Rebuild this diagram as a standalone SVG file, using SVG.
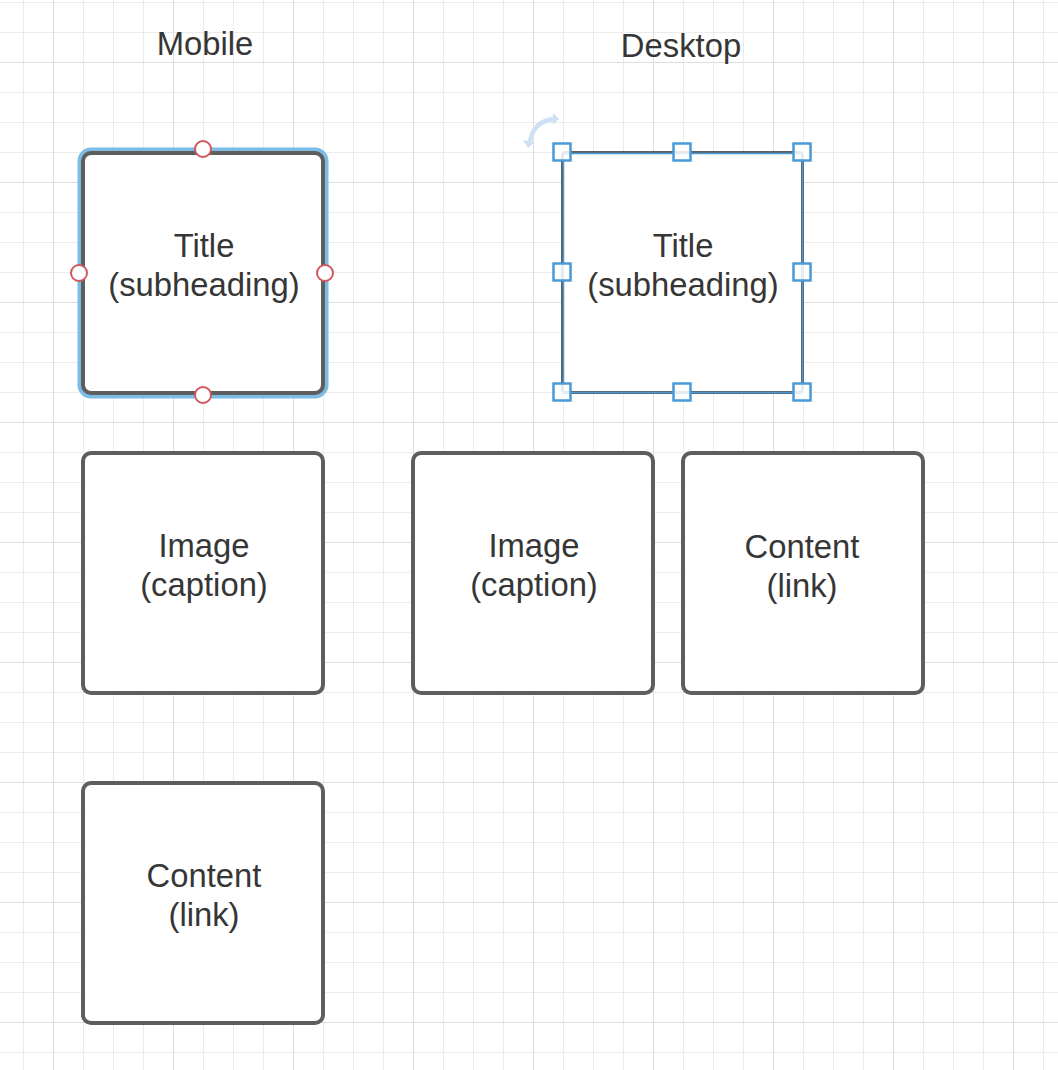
<svg xmlns="http://www.w3.org/2000/svg" width="1058" height="1070" viewBox="0 0 1058 1070">
  <defs>
    <!-- canvas grid: 30px minor cells, 120px major cells -->
    <pattern id="grid" patternUnits="userSpaceOnUse" x="23" y="2" width="120" height="120">
      <g stroke="#ececec" stroke-width="1">
        <line x1="0.5" y1="0" x2="0.5" y2="120"/>
        <line x1="60.5" y1="0" x2="60.5" y2="120"/>
        <line x1="90.5" y1="0" x2="90.5" y2="120"/>
        <line x1="0" y1="0.5" x2="120" y2="0.5"/>
        <line x1="0" y1="30.5" x2="120" y2="30.5"/>
        <line x1="0" y1="90.5" x2="120" y2="90.5"/>
      </g>
      <g stroke="#dedede" stroke-width="1">
        <line x1="30.5" y1="0" x2="30.5" y2="120"/>
        <line x1="0" y1="60.5" x2="120" y2="60.5"/>
      </g>
    </pattern>
    <style>
      .box { fill: #ffffff; stroke: #5e5e5e; stroke-width: 4; }
      .label { font-family: "Liberation Sans", Arial, sans-serif; font-size: 32.8px; fill: #363636; text-anchor: middle; }
      .anchor { fill: #ffffff; stroke: #d0585e; stroke-width: 2; }
      .handle { fill: #ffffff; fill-opacity: 0.85; stroke: #4a9ad8; stroke-width: 2.5; }
    </style>
  </defs>

  <rect x="0" y="0" width="1058" height="1070" fill="#ffffff"/>
  <rect x="0" y="0" width="1058" height="1070" fill="url(#grid)"/>

  <!-- column headings -->
  <text class="label" x="205" y="55">Mobile</text>
  <text class="label" x="681" y="57">Desktop</text>

  <!-- connectors (none in this layout) -->
  <g id="connectors"></g>

  <!-- Mobile column -->
  <g id="mobile-title">
    <rect x="80" y="150" width="246" height="246" rx="11" fill="none" stroke="#7cbde6" stroke-width="5"/>
    <rect class="box" x="83" y="153" width="240" height="240" rx="8"/>
    <text class="label" x="204" y="257">Title</text>
    <text class="label" x="204" y="296">(subheading)</text>
    <circle class="anchor" cx="203" cy="149" r="8"/>
    <circle class="anchor" cx="79" cy="273" r="8"/>
    <circle class="anchor" cx="325" cy="273" r="8"/>
    <circle class="anchor" cx="203" cy="395" r="8"/>
  </g>

  <g id="mobile-image">
    <rect class="box" x="83" y="453" width="240" height="240" rx="8"/>
    <text class="label" x="204" y="557">Image</text>
    <text class="label" x="204" y="596">(caption)</text>
  </g>

  <g id="mobile-content">
    <rect class="box" x="83" y="783" width="240" height="240" rx="8"/>
    <text class="label" x="204" y="887">Content</text>
    <text class="label" x="204" y="926">(link)</text>
  </g>

  <!-- Desktop column -->
  <g id="desktop-title">
    <rect x="562.5" y="152.5" width="240" height="240" rx="3" fill="#ffffff" stroke="#5e5e5e" stroke-width="3"/>
    <rect x="563.5" y="153.5" width="239" height="239" fill="none" stroke="#4a9ad8" stroke-width="1.5"/>
    <text class="label" x="683" y="257">Title</text>
    <text class="label" x="683" y="296">(subheading)</text>
    <!-- rotate control -->
    <g fill="#cfe0f4" stroke="none">
      <path d="M530,141 Q534,121 554,119" fill="none" stroke="#cfe0f4" stroke-width="4.5"/>
      <polygon points="523,140 535,142 528,148"/>
      <polygon points="553,113 559,119 553,125"/>
    </g>
    <!-- resize handles -->
    <rect class="handle" x="553.5" y="143.5" width="17" height="17"/>
    <rect class="handle" x="673.5" y="143.5" width="17" height="17"/>
    <rect class="handle" x="793.5" y="143.5" width="17" height="17"/>
    <rect class="handle" x="553.5" y="263.5" width="17" height="17"/>
    <rect class="handle" x="793.5" y="263.5" width="17" height="17"/>
    <rect class="handle" x="553.5" y="383.5" width="17" height="17"/>
    <rect class="handle" x="673.5" y="383.5" width="17" height="17"/>
    <rect class="handle" x="793.5" y="383.5" width="17" height="17"/>
  </g>

  <g id="desktop-image">
    <rect class="box" x="413" y="453" width="240" height="240" rx="8"/>
    <text class="label" x="534" y="557">Image</text>
    <text class="label" x="534" y="596">(caption)</text>
  </g>

  <g id="desktop-content">
    <rect class="box" x="683" y="453" width="240" height="240" rx="8"/>
    <text class="label" x="802" y="558">Content</text>
    <text class="label" x="802" y="597">(link)</text>
  </g>
</svg>
